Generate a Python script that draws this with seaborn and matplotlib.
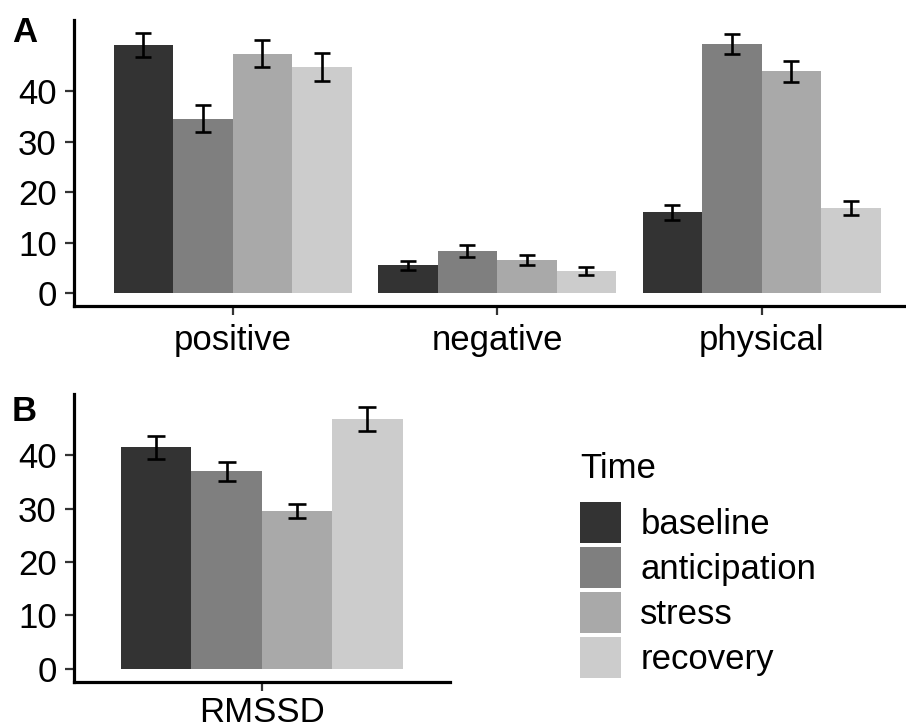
import numpy as np
import pandas as pd
import matplotlib
matplotlib.use('Agg')
import matplotlib.pyplot as plt
import seaborn as sns

# ---------------- data ----------------
times = ['baseline', 'anticipation', 'stress', 'recovery']
time_colors = ['#333333', '#7f7f7f', '#a9a9a9', '#cccccc']

measures_a = ['positive', 'negative', 'physical']
positive_mean = [49.2, 34.6, 47.5, 44.8]
positive_se = [2.4, 2.65, 2.65, 2.75]
negative_mean = [5.5, 8.4, 6.6, 4.4]
negative_se = [0.85, 1.2, 1.0, 0.8]
physical_mean = [16.0, 49.4, 44.0, 16.8]
physical_se = [1.5, 1.95, 2.1, 1.4]

measures_b = ['RMSSD']
rmssd_mean = [41.5, 37.0, 29.6, 46.8]
rmssd_se = [2.15, 1.8, 1.3, 2.25]

y_ticks = [0, 10, 20, 30, 40]


def make_df(measures, means, ses):
    rows = []
    for m, mv, sv in zip(measures, means, ses):
        for t, v, s in zip(times, mv, sv):
            rows.append({'measure': m, 'Time': t, 'mean': v, 'se': s})
    return pd.DataFrame(rows)


df_a = make_df(measures_a, [positive_mean, negative_mean, physical_mean],
               [positive_se, negative_se, physical_se])
df_b = make_df(measures_b, [rmssd_mean], [rmssd_se])

# ---------------- style ----------------
sns.set_theme(style='ticks')
plt.rcParams['font.family'] = ['Liberation Sans', 'DejaVu Sans']
plt.rcParams['text.color'] = 'black'

FS = 25
W, H = 906, 727
fig = plt.figure(figsize=(W / 100, H / 100), dpi=100)
ax_a = fig.add_axes([74 / W, 1 - 306 / H, 846.4 / W, 286 / H])
ax_b = fig.add_axes([74 / W, 1 - 681.7 / H, 375.5 / W, 287.7 / H])


def draw(ax, df, order, legend, capsize, xpad):
    sns.barplot(data=df, x='measure', y='mean', hue='Time', order=order,
                hue_order=times, palette=time_colors, width=0.9, gap=0,
                saturation=1, errorbar=None, legend=legend, linewidth=0,
                ax=ax)
    se_lookup = {(r.measure, r.Time): r.se for r in df.itertuples()}
    bar_containers = list(ax.containers)
    for level, container in zip(times, bar_containers):
        xs, ys, es = [], [], []
        for p in container.patches:
            xc = p.get_x() + p.get_width() / 2
            cat = order[int(round(xc))]
            xs.append(xc)
            ys.append(p.get_height())
            es.append(se_lookup[(cat, level)])
        ax.errorbar(xs, ys, yerr=es, fmt='none', ecolor='black',
                    elinewidth=1.9, capsize=capsize, capthick=1.9, zorder=3)
    top = (df['mean'] + df['se']).max()
    ax.set_ylim(-0.05 * top, 1.05 * top)
    ax.set_xlim(-0.6, len(order) - 0.4)
    ax.set_yticks(y_ticks)
    ax.set_xlabel('')
    ax.set_ylabel('')
    sns.despine(ax=ax)
    for s in ['left', 'bottom']:
        ax.spines[s].set_linewidth(2.3)
        ax.spines[s].set_color('black')
        ax.spines[s].set_capstyle('projecting')
    ax.tick_params(axis='both', labelsize=FS, length=6.5, width=1.6,
                   color='#333333', labelcolor='black')
    ax.tick_params(axis='y', pad=6)
    ax.tick_params(axis='x', pad=xpad)


draw(ax_a, df_a, measures_a, False, 5.5, 6.5)
draw(ax_b, df_b, measures_b, True, 6.5, 4.0)

handles, labels = ax_b.get_legend_handles_labels()
ax_b.get_legend().remove()
leg = fig.legend(handles, labels, title='Time', loc='upper left',
                 bbox_to_anchor=(580 / W, 1 - 452 / H), frameon=False,
                 fontsize=FS, title_fontsize=FS, handlelength=1.18,
                 handleheight=1.44, handletextpad=0.56, labelspacing=0.115,
                 borderpad=0, borderaxespad=0, alignment='left',
                 labelcolor='black')
leg.get_title().set_color('black')
if hasattr(leg, '_legend_box') and hasattr(leg._legend_box, 'sep'):
    leg._legend_box.sep = 12

fig.text(12 / W, 1 - 16 / H, 'A', fontsize=FS, fontweight='bold',
         ha='left', va='top', color='black')
fig.text(12 / W, 1 - 395 / H, 'B', fontsize=FS, fontweight='bold',
         ha='left', va='top', color='black')

fig.savefig('out.png', dpi=100)
